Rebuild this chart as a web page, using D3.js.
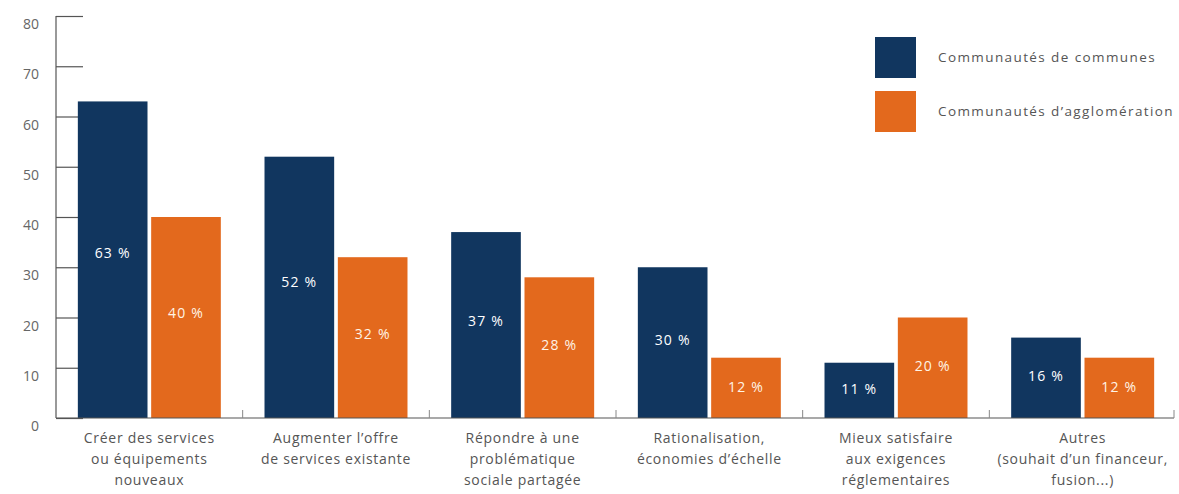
<!DOCTYPE html>
<html><head><meta charset="utf-8">
<script src="https://cdn.jsdelivr.net/npm/d3@7"></script>
<style>
html,body{margin:0;padding:0;background:#fff;}
svg{display:block;font-family:"Open Sans","Noto Sans",sans-serif;}
</style></head>
<body>
<svg id="chart" width="1179" height="494"></svg>
<script>
const categories = [
  ["Créer des services","ou équipements","nouveaux"],
  ["Augmenter l’offre","de services existante"],
  ["Répondre à une","problématique","sociale partagée"],
  ["Rationalisation,","économies d’échelle"],
  ["Mieux satisfaire","aux exigences","réglementaires"],
  ["Autres","(souhait d’un financeur,","fusion...)"]
];
const seriesNames = ["Communautés de communes","Communautés d’agglomération"];
const communes = [63, 52, 37, 30, 11, 16];
const agglomeration = [40, 32, 28, 12, 20, 12];
const yTicks = [0,10,20,30,40,50,60,70,80];

const colors = ["#11365f", "#e3691d"];
const svg = d3.select("#chart");

const x = d3.scaleBand().domain(d3.range(categories.length)).range([56, 1176]).paddingInner(0.234).paddingOuter(0.117);
const xs = d3.scaleBand().domain([0,1]).range([0, x.bandwidth()]).paddingInner(0.05);
const y = d3.scaleLinear().domain([0, 80]).range([418, 16]);

// y axis
const yAxis = d3.axisRight(y).tickValues(yTicks).tickSize(27).tickFormat("");
const gy = svg.append("g").attr("transform","translate(56,0)").call(yAxis);
gy.select(".domain").remove();
gy.selectAll(".tick line").attr("stroke","#555").attr("stroke-width",1.2);
svg.append("line").attr("x1",56).attr("x2",56).attr("y1",y(80)).attr("y2",y(0)).attr("stroke","#555").attr("stroke-width",1.2);
svg.selectAll(".ylab").data(yTicks).enter().append("text")
  .attr("x",39).attr("y",d=>y(d)+13).attr("text-anchor","end")
  .attr("font-size",14).attr("fill","#666").text(d=>d);

// bars
const data = categories.map((c,i)=>({i, vals:[communes[i], agglomeration[i]]}));
const groups = svg.selectAll(".grp").data(data).enter().append("g")
  .attr("transform",d=>`translate(${x(d.i)},0)`);
groups.selectAll("rect").data(d=>d.vals.map((v,k)=>({v,k}))).enter().append("rect")
  .attr("x",d=>xs(d.k)).attr("width",xs.bandwidth())
  .attr("y",d=>y(d.v)).attr("height",d=>y(0)-y(d.v))
  .attr("fill",d=>colors[d.k]);
groups.selectAll(".val").data(d=>d.vals.map((v,k)=>({v,k}))).enter().append("text")
  .attr("x",d=>xs(d.k)+xs.bandwidth()/2)
  .attr("y",d=>y(d.v*0.52)+5)
  .attr("text-anchor","middle").attr("font-size",14).attr("letter-spacing",1.2)
  .attr("fill",d=>d.k===0?"#ffffff":"#fff4e6").text(d=>d.v+" %");

// baseline
svg.append("line").attr("x1",56).attr("x2",1174).attr("y1",y(0)).attr("y2",y(0)).attr("stroke","#555").attr("stroke-width",1.2);
// separators
const seps = d3.range(1, categories.length+1).map(i=> i<categories.length ? (x(i-1)+x.bandwidth()+x(i))/2 : 1174);
svg.selectAll(".sep").data(seps).enter().append("line")
  .attr("x1",d=>d).attr("x2",d=>d).attr("y1",y(0)).attr("y2",y(0)-8)
  .attr("stroke","#888").attr("stroke-width",1);

// category labels
categories.forEach((lines,i)=>{
  lines.forEach((l,j)=>{
    svg.append("text").attr("text-anchor","middle").attr("font-size",14).attr("letter-spacing",0.7)
      .attr("fill","#555")
      .attr("x",x(i)+x.bandwidth()/2).attr("y",443+j*21).text(l);
  });
});

// legend
seriesNames.forEach((n,k)=>{
  svg.append("rect").attr("x",875).attr("y",37+k*54).attr("width",41).attr("height",41).attr("fill",colors[k]);
  svg.append("text").attr("x",938).attr("y",62+k*54).attr("font-size",13.5).attr("letter-spacing",1.4)
    .attr("fill","#555").text(n);
});
</script>
</body></html>
